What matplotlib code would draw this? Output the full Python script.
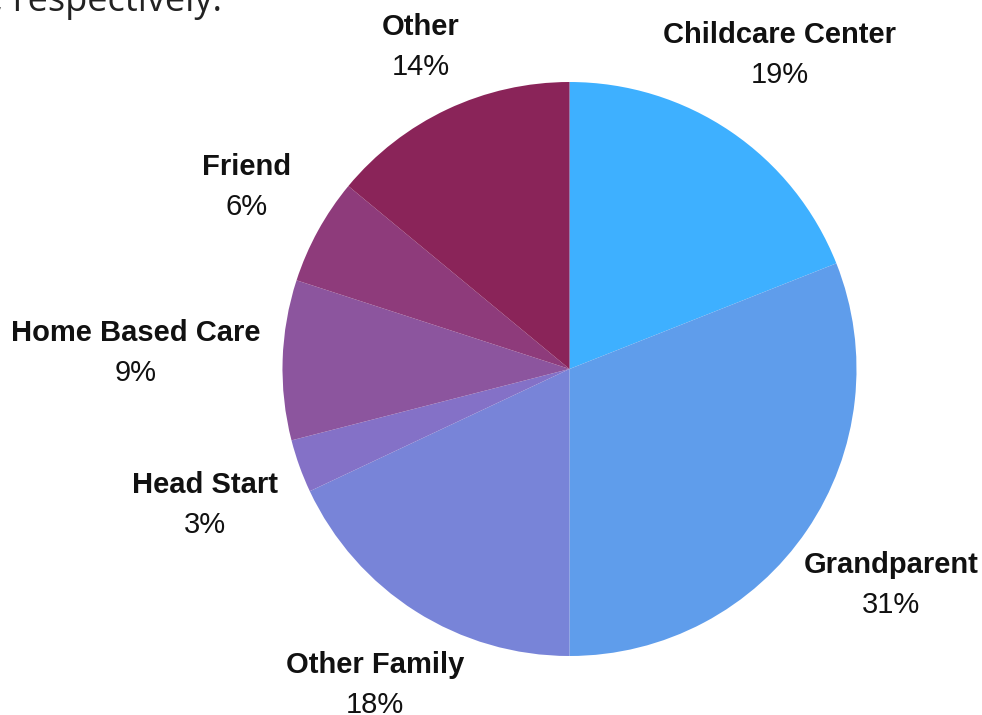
import matplotlib
matplotlib.use("Agg")
import matplotlib.pyplot as plt

categories = ["Childcare Center", "Grandparent", "Other Family", "Head Start",
              "Home Based Care", "Friend", "Other"]
values = [19, 31, 18, 3, 9, 6, 14]
colors = ["#3EB0FF", "#5F9DEB", "#7884D8", "#8471C7", "#8C559E", "#8E3B7B", "#8A2459"]

W, H = 982, 715
fig = plt.figure(figsize=(W / 100, H / 100), dpi=100)
ax = fig.add_axes([0, 0, 1, 1])

cx, cy, r = 569.5, H - 369, 287
ax.pie(values, colors=colors, startangle=90, counterclock=False,
       center=(cx, cy), radius=r, frame=True,
       wedgeprops=dict(linewidth=0, antialiased=True))
ax.set_xlim(0, W)
ax.set_ylim(0, H)
ax.set_aspect("equal")
ax.axis("off")

# label centres (pixel coords, top-origin)
label_pos = [(780, 35), (891, 565), (375, 665), (205, 485), (136, 333), (247, 167), (421, 27)]
for name, v, (px, py) in zip(categories, values, label_pos):
    ax.text(px, H - py, name, ha="center", va="center", fontsize=21,
            fontweight="bold", family="Liberation Sans", color="#111111")
    ax.text(px, H - py - 40, f"{v}%", ha="center", va="center", fontsize=21,
            family="Liberation Sans", color="#111111")

ax.text(-6, H - 11, ", respectively.", ha="left", va="baseline", fontsize=26,
        family="Open Sans", color="#222222")

fig.savefig("out.png", dpi=100)
